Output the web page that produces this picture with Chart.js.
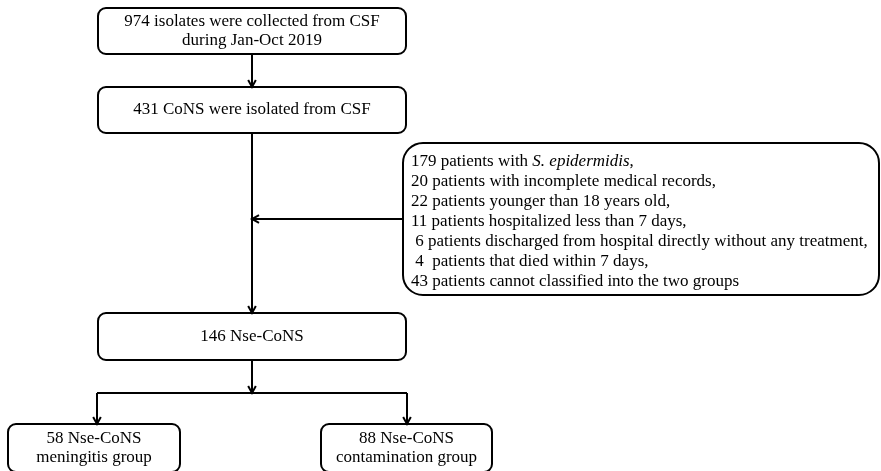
<!DOCTYPE html>
<html lang="en">
<head>
    <meta charset="UTF-8">
    <title>Flowchart of CoNS isolates</title>
    <script src="https://cdn.jsdelivr.net/npm/chart.js"></script>
    <style>
        body {
            margin: 0;
            background-color: #ffffff;
        }

        .container {
            width: 881px;
            height: 471px;
        }
    </style>
</head>
<body>

    <div class="container">
        <canvas id="myChart" width="881" height="471"></canvas>
    </div>

    <script>
        // texts of the flowchart nodes
        const mainSteps = [
            ['974 isolates were collected from CSF', 'during Jan-Oct 2019'],
            ['431 CoNS were isolated from CSF'],
            ['146 Nse-CoNS']
        ];
        const groupNames = [
            ['58 Nse-CoNS', 'meningitis group'],
            ['88 Nse-CoNS', 'contamination group']
        ];
        const excludedCounts = ['179', '20', '22', '11', ' 6', ' 4 ', '43'];
        const excludedReasons = [
            ' patients with ',
            ' patients with incomplete medical records,',
            ' patients younger than 18 years old,',
            ' patients hospitalized less than 7 days,',
            ' patients discharged from hospital directly without any treatment,',
            ' patients that died within 7 days,',
            ' patients cannot classified into the two groups'
        ];

        // layout, in axis units (x: 0..881, y: 0..471 top down)
        const mainBoxes = [
            { x0: 98, x1: 406, y0: 8, y1: 54 },
            { x0: 98, x1: 406, y0: 87, y1: 133 },
            { x0: 98, x1: 406, y0: 313, y1: 360 }
        ];
        const groupBoxes = [
            { x0: 8, x1: 180, y0: 424, y1: 472 },
            { x0: 321, x1: 492, y0: 424, y1: 472 }
        ];
        const sideBox = { x0: 403, x1: 879, y0: 143, y1: 295 };

        const font = '17px "Liberation Serif", "Times New Roman", serif';
        const italicFont = 'italic 17px "Liberation Serif", "Times New Roman", serif';

        function roundBox(ctx, xs, ys, b, r) {
            const x0 = xs.getPixelForValue(b.x0), x1 = xs.getPixelForValue(b.x1);
            const y0 = ys.getPixelForValue(b.y0), y1 = ys.getPixelForValue(b.y1);
            ctx.beginPath();
            ctx.roundRect(x0, y0, x1 - x0, y1 - y0, r);
            ctx.stroke();
        }

        function arrow(ctx, xs, ys, ax, ay, bx, by) {
            const x0 = xs.getPixelForValue(ax), y0 = ys.getPixelForValue(ay);
            const x1 = xs.getPixelForValue(bx), y1 = ys.getPixelForValue(by);
            ctx.beginPath();
            ctx.moveTo(x0, y0);
            ctx.lineTo(x1, y1);
            ctx.stroke();
            const a = Math.atan2(y1 - y0, x1 - x0);
            const len = 8, spread = 0.5;
            ctx.beginPath();
            ctx.moveTo(x1 - len * Math.cos(a - spread), y1 - len * Math.sin(a - spread));
            ctx.lineTo(x1, y1);
            ctx.lineTo(x1 - len * Math.cos(a + spread), y1 - len * Math.sin(a + spread));
            ctx.stroke();
        }

        function line(ctx, xs, ys, ax, ay, bx, by) {
            ctx.beginPath();
            ctx.moveTo(xs.getPixelForValue(ax), ys.getPixelForValue(ay));
            ctx.lineTo(xs.getPixelForValue(bx), ys.getPixelForValue(by));
            ctx.stroke();
        }

        function boxText(ctx, xs, ys, b, lines, step) {
            const cx = xs.getPixelForValue((b.x0 + b.x1) / 2);
            const cy = ys.getPixelForValue((b.y0 + b.y1) / 2);
            ctx.font = font;
            ctx.textAlign = 'center';
            ctx.textBaseline = 'middle';
            lines.forEach((t, i) => {
                ctx.fillText(t, cx, cy + (i - (lines.length - 1) / 2) * step);
            });
        }

        const flowPlugin = {
            id: 'flow',
            afterDraw(chart) {
                const ctx = chart.ctx;
                const xs = chart.scales.x, ys = chart.scales.y;
                ctx.save();
                ctx.strokeStyle = '#000';
                ctx.fillStyle = '#000';
                ctx.lineWidth = 2;

                mainBoxes.forEach((b, i) => {
                    roundBox(ctx, xs, ys, b, 8);
                    boxText(ctx, xs, ys, b, mainSteps[i], 19);
                });
                groupBoxes.forEach((b, i) => {
                    roundBox(ctx, xs, ys, b, 8);
                    boxText(ctx, xs, ys, b, groupNames[i], 19);
                });
                roundBox(ctx, xs, ys, sideBox, 20);

                // connectors
                const mid = 252;
                arrow(ctx, xs, ys, mid, 54, mid, 87);
                arrow(ctx, xs, ys, mid, 133, mid, 313);
                arrow(ctx, xs, ys, sideBox.x0, 219, mid, 219);
                arrow(ctx, xs, ys, mid, 360, mid, 393);
                line(ctx, xs, ys, 97, 393, 407, 393);
                arrow(ctx, xs, ys, 97, 393, 97, 424);
                arrow(ctx, xs, ys, 407, 393, 407, 424);

                // excluded list
                ctx.textAlign = 'left';
                ctx.textBaseline = 'middle';
                const tx = xs.getPixelForValue(411);
                excludedCounts.forEach((n, i) => {
                    const y = ys.getPixelForValue(162 + i * 19.9);
                    ctx.font = font;
                    let s = n + excludedReasons[i];
                    ctx.fillText(s, tx, y);
                    if (i === 0) {
                        let w = ctx.measureText(s).width;
                        ctx.font = italicFont;
                        ctx.fillText('S. epidermidis', tx + w, y);
                        w += ctx.measureText('S. epidermidis').width;
                        ctx.font = font;
                        ctx.fillText(',', tx + w, y);
                    }
                });
                ctx.restore();
            }
        };

        const ctx = document.getElementById('myChart').getContext('2d');
        const chart = new Chart(ctx, {
            type: 'scatter',
            data: { datasets: [{ data: [] }] },
            options: {
                responsive: false,
                animation: false,
                devicePixelRatio: 1,
                layout: { padding: 0 },
                plugins: { legend: { display: false }, tooltip: { enabled: false } },
                scales: {
                    x: { type: 'linear', min: 0, max: 881, display: false },
                    y: { type: 'linear', min: 0, max: 471, reverse: true, display: false }
                }
            },
            plugins: [flowPlugin]
        });
    </script>

</body>
</html>
